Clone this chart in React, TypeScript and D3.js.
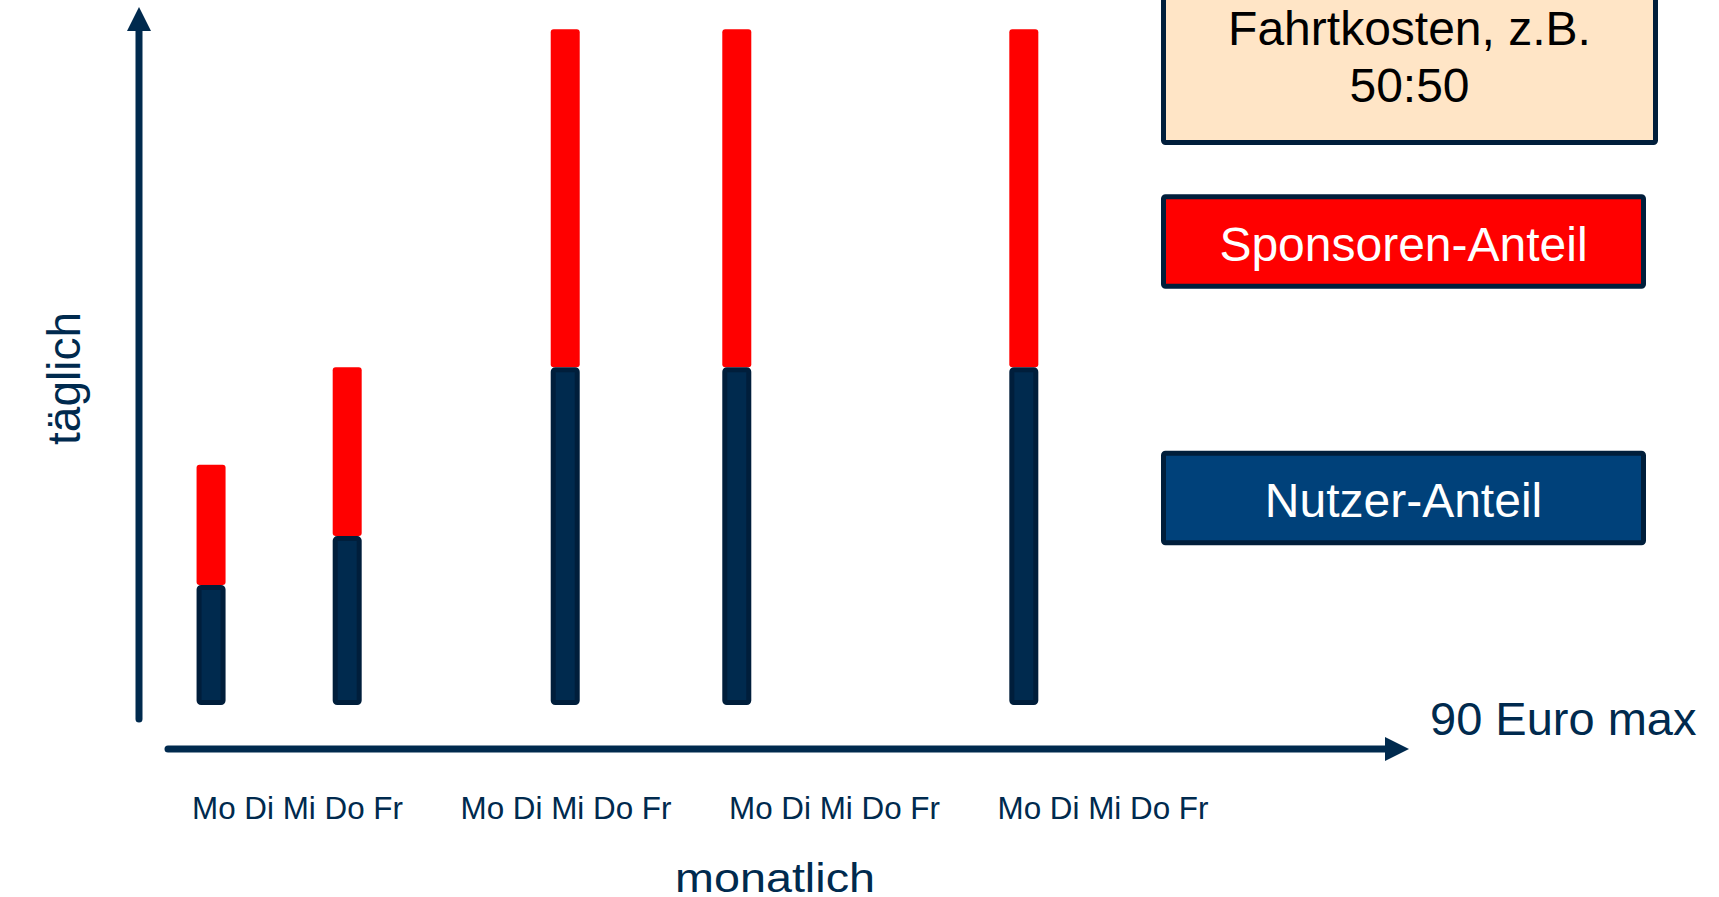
import React from "react";
import * as d3 from "d3";

// Kostenaufteilung je Fahrt: Nutzer- und Sponsorenanteil (Euro)
const weekdays = ["Mo", "Di", "Mi", "Do", "Fr"];
const weeks = [0, 1, 2, 3];
const barPositions = [0.071, 0.578, 1.39, 2.029, 3.098]; // Lage auf der Monatsachse (in Wochen)
const nutzerAnteil = [16, 22.5, 45, 45, 45];
const sponsorenAnteil = [16, 22.5, 45, 45, 45];
const maxLabel = "90 Euro max";
const yAxisTitle = "täglich";
const xAxisTitle = "monatlich";
const infoLines = ["Fahrtkosten, z.B.", "50:50"];
const legendLabels = ["Sponsoren-Anteil", "Nutzer-Anteil"];

const W = 1719;
const H = 897;
const NAVY = "#002A4E";
const NAVY_DARK = "#001E3B";
const RED = "#FF0000";
const FONT = "'Liberation Sans', Arial, Helvetica, sans-serif";

export default function App() {
  const x = d3.scaleLinear().domain([0, 4]).range([192, 192 + 4 * 268.5]);
  const y = d3.scaleLinear().domain([0, 90]).range([705, 29.3]);
  const barW = 29;

  const bars = barPositions.map((p, i) => {
    const cx = x(p);
    const n = nutzerAnteil[i];
    const s = sponsorenAnteil[i];
    return { cx, y0: y(0), yN: y(n), yS: y(n + s) };
  });

  // Achsen
  const yAxisX = 139;
  const yAxisBottom = 719;
  const yTip = 7;
  const xAxisY = 749;
  const xAxisLeft = 168;
  const xTip = 1409;
  const head = 24;
  const halfHead = 12;

  const legendColors = [RED, "#00417A"];
  const legendTops = [194.3, 450.7];

  return (
    <svg
      width={W}
      height={H}
      viewBox={`0 0 ${W} ${H}`}
      style={{ position: "absolute", left: 0, top: 0, background: "#fff" }}
      fontFamily={FONT}
    >
      <rect x={0} y={0} width={W} height={H} fill="#fff" />

      {/* y-Achse mit Pfeil */}
      <line
        x1={yAxisX}
        x2={yAxisX}
        y1={yAxisBottom}
        y2={yTip + head - 1}
        stroke={NAVY}
        strokeWidth={7}
        strokeLinecap="round"
      />
      <path
        d={`M${yAxisX},${yTip} L${yAxisX + halfHead},${yTip + head} L${yAxisX - halfHead},${yTip + head} Z`}
        fill={NAVY}
      />
      <text
        transform={`translate(80,378.5) rotate(-90)`}
        textAnchor="middle"
        fontSize={46}
        fill={NAVY}
      >
        {yAxisTitle}
      </text>

      {/* x-Achse mit Pfeil */}
      <line
        x1={xAxisLeft}
        x2={xTip - head + 1}
        y1={xAxisY}
        y2={xAxisY}
        stroke={NAVY}
        strokeWidth={7}
        strokeLinecap="round"
      />
      <path
        d={`M${xTip},${xAxisY} L${xTip - head},${xAxisY - halfHead} L${xTip - head},${xAxisY + halfHead} Z`}
        fill={NAVY}
      />
      <text x={1430} y={735} fontSize={47} fill={NAVY}>
        {maxLabel}
      </text>

      {/* Wochentage je Woche */}
      {weeks.map((w) => (
        <text
          key={w}
          x={x(w)}
          y={819.3}
          fontSize={32}
          fill={NAVY}
          textLength={211}
          lengthAdjust="spacingAndGlyphs"
        >
          {weekdays.join(" ")}
        </text>
      ))}
      <text
        x={675}
        y={891.5}
        fontSize={41}
        fill={NAVY}
        textLength={200}
        lengthAdjust="spacingAndGlyphs"
      >
        {xAxisTitle}
      </text>

      {/* Gestapelte Balken */}
      {bars.map((b, i) => (
        <g key={i}>
          <rect
            x={b.cx - barW / 2}
            y={b.yS}
            width={barW}
            height={b.yN - b.yS}
            rx={3}
            fill={RED}
          />
          <rect
            x={b.cx - barW / 2 + 2.5}
            y={b.yN + 2.5}
            width={barW - 5}
            height={b.y0 - b.yN - 5}
            rx={2}
            fill={NAVY}
            stroke={NAVY_DARK}
            strokeWidth={5}
          />
        </g>
      ))}

      {/* Infokasten */}
      <rect
        x={1163.5}
        y={-12}
        width={492}
        height={154.5}
        rx={2}
        fill="#FFE5C6"
        stroke={NAVY_DARK}
        strokeWidth={5}
      />
      {infoLines.map((t, i) => (
        <text
          key={t}
          x={1409.5}
          y={45 + i * 56.7}
          textAnchor="middle"
          fontSize={48}
          fill="#000"
        >
          {t}
        </text>
      ))}

      {/* Legende */}
      {legendLabels.map((t, i) => (
        <g key={t}>
          <rect
            x={1163.5}
            y={legendTops[i] + 2.5}
            width={480}
            height={89.5}
            rx={2}
            fill={legendColors[i]}
            stroke={NAVY_DARK}
            strokeWidth={5}
          />
          <text
            x={1403.5}
            y={legendTops[i] + 66.2}
            textAnchor="middle"
            fontSize={48}
            fill="#fff"
          >
            {t}
          </text>
        </g>
      ))}
    </svg>
  );
}
